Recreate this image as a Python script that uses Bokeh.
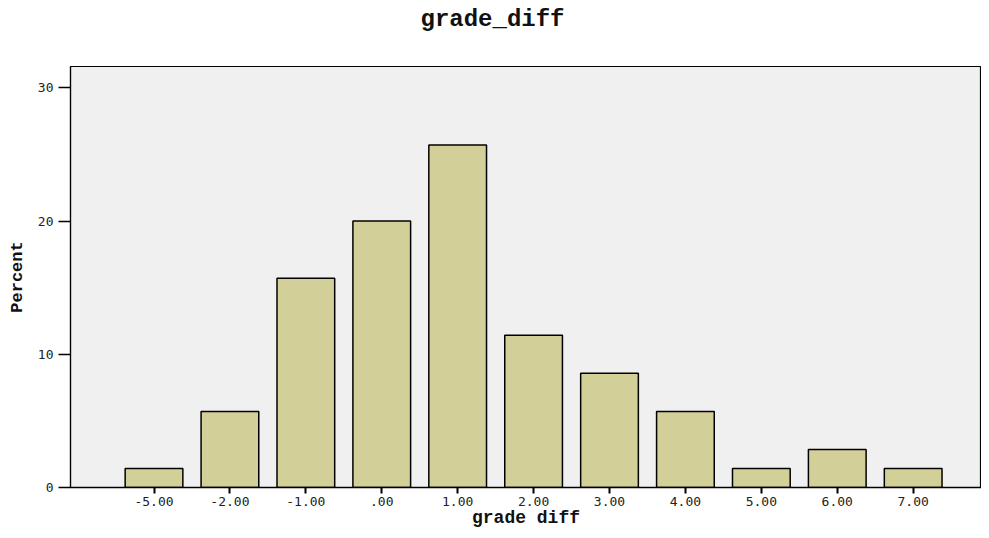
from bokeh.plotting import figure
from bokeh.models import Range1d, FixedTicker, ColumnDataSource, Title, LinearAxis
from bokeh.embed import file_html
from bokeh.resources import INLINE

title_text = "grade_diff"
x_label = "grade diff"
y_label = "Percent"
categories = ["-5.00", "-2.00", "-1.00", ".00", "1.00", "2.00", "3.00", "4.00", "5.00", "6.00", "7.00"]
percent = [1.43, 5.71, 15.71, 20.0, 25.71, 11.43, 8.57, 5.71, 1.43, 2.86, 1.43]
y_ticks = [0, 10, 20, 30]

positions = list(range(len(categories)))
source = ColumnDataSource(dict(x=positions, top=percent, label=categories))

W, H = 981, 530
p = figure(width=W, height=H, output_backend="svg", toolbar_location=None,
           x_range=Range1d(-1.1, len(categories) - 0.1), y_range=Range1d(0, 31.6),
           min_border_left=70, min_border_right=0,
           min_border_top=66, min_border_bottom=43)

p.vbar(x="x", top="top", bottom=0, width=0.76, source=source,
       fill_color="#d3cf99", line_color="black", line_width=1.5)

p.background_fill_color = "#f0f0f0"
p.border_fill_color = "white"
p.outline_line_color = "black"
p.outline_line_width = 1.2
p.xgrid.visible = False
p.ygrid.visible = False

tick_font = "DejaVu Sans Mono"

xa = p.below[0]
xa.ticker = FixedTicker(ticks=positions)
xa.major_label_overrides = {i: c for i, c in zip(positions, categories)}
xa.major_tick_out = 6
xa.major_tick_in = 0
xa.major_tick_line_width = 2
xa.minor_tick_line_color = None
xa.axis_line_width = 1.5
xa.major_label_text_font = tick_font
xa.major_label_text_font_size = "13px"
xa.major_label_text_color = "#222222"
xa.major_label_standoff = 3
xa.axis_label = x_label
xa.axis_label_text_font = "Liberation Mono"
xa.axis_label_text_font_style = "bold"
xa.axis_label_text_font_size = "18px"
xa.axis_label_text_color = "#111111"
xa.axis_label_standoff = -1

ya = p.left[0]
ya.ticker = FixedTicker(ticks=y_ticks)
ya.major_tick_out = 12
ya.major_tick_in = 0
ya.major_tick_line_width = 1.5
ya.minor_tick_line_color = None
ya.axis_line_width = 1.2
ya.major_label_text_font = tick_font
ya.major_label_text_font_size = "13px"
ya.major_label_text_color = "#222222"
ya.major_label_standoff = 5
ya.axis_label = y_label
ya.axis_label_text_font = "Liberation Mono"
ya.axis_label_text_font_style = "bold"
ya.axis_label_text_font_size = "17px"
ya.axis_label_text_color = "#111111"
ya.axis_label_standoff = 8

# invisible spacer between frame and title (one hidden, unlabeled tick)
spacer = LinearAxis(ticker=FixedTicker(ticks=[0]), major_label_overrides={0: ""},
                    axis_line_color=None, major_tick_line_color=None,
                    minor_tick_line_color=None, major_tick_out=30, major_tick_in=0,
                    minor_tick_out=0, major_label_standoff=0)
p.add_layout(spacer, "above")

title = Title(text=title_text, align="left", offset=350, standoff=7,
              text_font="Liberation Mono", text_font_style="bold",
              text_font_size="24px", text_color="#111111")
p.add_layout(title, "above")

open("out.html", "w").write(file_html(p, INLINE))
